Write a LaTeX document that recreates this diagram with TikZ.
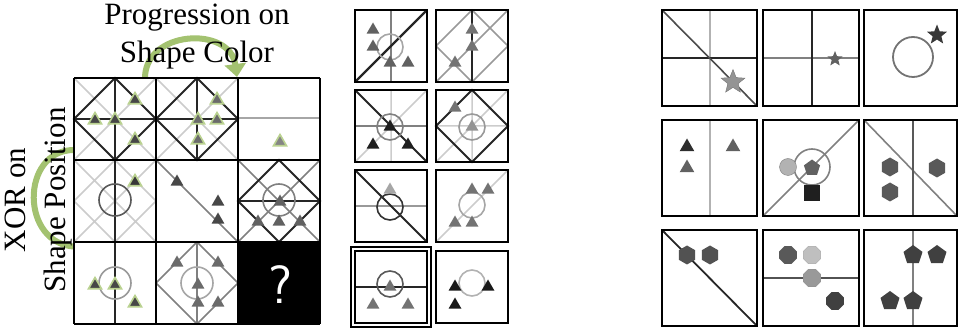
\documentclass[tikz,border=0pt]{standalone}
\usepackage{fontspec}
\setmainfont{Liberation Serif}
\usetikzlibrary{shapes.geometric,arrows.meta}

\definecolor{leaf}{RGB}{163,194,112}
\definecolor{glowc}{RGB}{186,210,144}

\tikzset{
  frame/.style={draw=black,line width=2.5pt},
  bk/.style={draw=black!85,line width=1.8pt},
  gr/.style={draw=black!50,line width=1.6pt},
  lg/.style={draw=black!20,line width=1.5pt},
  tri/.style={regular polygon,regular polygon sides=3,inner sep=0pt,minimum size=15pt},
  glow/.style={draw=glowc,line width=1.6pt},
  hexa/.style={regular polygon,regular polygon sides=6,shape border rotate=30,inner sep=0pt,minimum size=19pt},
  penta/.style={regular polygon,regular polygon sides=5,inner sep=0pt,minimum size=20pt},
  octa/.style={regular polygon,regular polygon sides=8,inner sep=0pt,minimum size=19pt},
  starr/.style={star,star points=5,star point ratio=2.3,inner sep=0pt},
  title/.style={font=\fontsize{31}{36}\selectfont}
}

\begin{document}
\begin{tikzpicture}[x=1pt,y=-1pt]
    \useasboundingbox (0,0) rectangle (961,328);

    % Green arrows
    \draw[leaf,line width=6pt,-{Triangle[width=21pt,length=13pt]}] (145,80) .. controls (143,30) and (230,25) .. (237,77);
    \draw[leaf,line width=6pt,-{Triangle[width=21pt,length=13pt]}] (74,150) .. controls (20,150) and (20,245) .. (88,247);

    % Titles
    \node[title,anchor=base] (topA) at (197,25) {Progression on};
    \node[title,anchor=base] (topB) at (197,63) {Shape Color};
    \node[title,anchor=base,rotate=90] (sideA) at (25,200) {XOR on};
    \node[title,anchor=base,rotate=90] (sideB) at (65,200) {Shape Position};

    % Matrix
    \fill[white] (74,78) rectangle (320,324);

    % Row 1
    \begin{scope}[shift={(74,78)}]
        \draw[lg] (0,0) -- (82,82) (0,82) -- (82,0);
        \draw[bk] (41,0) -- (82,41) -- (41,82) -- (0,41) -- cycle (41,0) -- (41,82) (0,41) -- (82,41);
        \foreach \p [count=\k] in {(61,22),(21,42),(41,42),(61,62)}
            \node[tri,glow,fill=black!72] (m11t\k) at \p {};
    \end{scope}
    \begin{scope}[shift={(156,78)}]
        \draw[lg] (0,0) -- (82,82) (0,82) -- (82,0);
        \draw[bk] (41,0) -- (82,41) -- (41,82) -- (0,41) -- cycle (41,0) -- (41,82) (0,41) -- (82,41);
        \foreach \p [count=\k] in {(61,22),(42,42),(61,42),(42,62)}
            \node[tri,glow,fill=black!58] (m12t\k) at \p {};
    \end{scope}
    \begin{scope}[shift={(238,78)}]
        \draw[gr,draw=black!35] (0,40) -- (82,40);
        \node[tri,glow,fill=black!48] (m13t1) at (42,64) {};
    \end{scope}

    % Row 2
    \begin{scope}[shift={(74,160)}]
        \draw[lg] (0,0) -- (82,82) (0,82) -- (82,0) (41,0) -- (82,41) -- (41,82) -- (0,41) -- cycle;
        \draw[bk] (41,0) -- (41,82);
        \draw[gr,draw=black!65] (41,40) circle (16pt);
        \node[tri,glow,fill=black!78] (m21t1) at (61,22) {};
    \end{scope}
    \begin{scope}[shift={(156,160)}]
        \draw[gr] (0,0) -- (82,82);
        \foreach \p [count=\k] in {(21,22),(62,42),(62,60)}
            \node[tri,fill=black!72] (m22t\k) at \p {};
    \end{scope}
    \begin{scope}[shift={(238,160)}]
        \draw[gr] (0,0) -- (82,82) (0,82) -- (82,0);
        \draw[bk] (41,0) -- (82,41) -- (41,82) -- (0,41) -- cycle (0,41) -- (82,41);
        \draw[gr] (41,40) circle (16pt);
        \foreach \p [count=\k] in {(42,42),(20,62),(41,62),(62,62)}
            \node[tri,fill=black!62] (m23t\k) at \p {};
    \end{scope}

    % Row 3
    \begin{scope}[shift={(74,242)}]
        \draw[bk] (41,0) -- (41,82);
        \draw[gr,draw=black!40] (41,41) circle (16pt);
        \foreach \p [count=\k] in {(21,43),(41,43),(61,61)}
            \node[tri,glow,fill=black!72] (m31t\k) at \p {};
    \end{scope}
    \begin{scope}[shift={(156,242)}]
        \draw[gr] (41,0) -- (82,41) -- (41,82) -- (0,41) -- cycle (41,0) -- (41,82);
        \draw[gr,draw=black!35] (41,41) circle (16pt);
        \foreach \p [count=\k] in {(21,21),(62,21),(42,43),(42,61),(62,61)}
            \node[tri,fill=black!58] (m32t\k) at \p {};
    \end{scope}
    \fill[black] (238,242) rectangle (320,324);
    \node[white,font=\sffamily\fontsize{54}{60}\selectfont] (ask) at (280,285) {?};

    % Grid lines
    \foreach \i in {0,82,164,246}
        \draw[frame] (74+\i,78) -- (74+\i,324) (74,78+\i) -- (320,78+\i);

    % Answer candidates
    \begin{scope}[shift={(355,10)}]
        \draw[gr] (36,0) -- (36,72);
        \draw[bk,line width=2.2pt] (0,72) -- (72,0);
        \draw[gr,draw=black!35] (35,37) circle (13pt);
        \foreach \p [count=\k] in {(18,20),(18,37),(35,53),(53,53)}
            \node[tri,fill=black!62] (c1t\k) at \p {};
        \draw[frame] (0,0) rectangle (72,72);
    \end{scope}
    \begin{scope}[shift={(436,10)}]
        \draw[gr,draw=black!40] (36,0) -- (72,36) -- (36,72) -- (0,36) -- cycle (0,72) -- (72,0);
        \draw[bk] (36,0) -- (36,72);
        \foreach \p [count=\k] in {(36,20),(36,37),(19,53)}
            \node[tri,fill=black!55] (c2t\k) at \p {};
        \draw[frame] (0,0) rectangle (72,72);
    \end{scope}
    \begin{scope}[shift={(355,90)}]
        \draw[lg] (36,0) -- (36,72) (0,72) -- (72,0);
        \draw[gr] (0,36) -- (72,36);
        \draw[bk] (0,0) -- (72,72);
        \draw[gr] (35,37) circle (13pt);
        \foreach \p [count=\k] in {(35,37),(18,55),(53,55)}
            \node[tri,fill=black!88] (c3t\k) at \p {};
        \draw[frame] (0,0) rectangle (72,72);
    \end{scope}
    \begin{scope}[shift={(436,90)}]
        \draw[lg] (36,0) -- (36,72) (0,36) -- (72,36) (0,72) -- (72,0);
        \draw[bk] (36,0) -- (72,36) -- (36,72) -- (0,36) -- cycle;
        \draw[gr,draw=black!40] (36,37) circle (13pt);
        \node[tri,fill=black!55] (c4t1) at (19,18) {};
        \node[tri,fill=black!42] (c4t2) at (36,37) {};
        \draw[frame] (0,0) rectangle (72,72);
    \end{scope}
    \begin{scope}[shift={(355,170)}]
        \draw[gr,draw=black!40] (0,36) -- (72,36);
        \draw[bk] (0,0) -- (72,72);
        \draw[gr,draw=black!80] (35,37) circle (13pt);
        \node[tri,fill=black!35] (c5t1) at (35,20) {};
        \draw[frame] (0,0) rectangle (72,72);
    \end{scope}
    \begin{scope}[shift={(436,170)}]
        \draw[lg] (0,72) -- (72,0);
        \draw[gr,draw=black!35] (36,35) circle (13pt);
        \foreach \p [count=\k] in {(36,20),(52,20),(19,53),(36,53)}
            \node[tri,fill=black!55] (c6t\k) at \p {};
        \draw[frame] (0,0) rectangle (72,72);
    \end{scope}
    \begin{scope}[shift={(355,251)}]
        \draw[bk] (0,36) -- (72,36);
        \draw[gr,draw=black!65] (35,33) circle (13pt);
        \foreach \p [count=\k] in {(35,36),(18,54),(53,54)}
            \node[tri,fill=black!55] (c7t\k) at \p {};
        \draw[frame] (0,0) rectangle (72,72);
        \draw[line width=1.6pt] (-4,-4) rectangle (76,76);
    \end{scope}
    \begin{scope}[shift={(436,251)}]
        \draw[gr,draw=black!30] (36,32) circle (13pt);
        \foreach \p [count=\k] in {(19,36),(52,36),(19,54)}
            \node[tri,fill=black!90] (c8t\k) at \p {};
        \draw[frame] (0,0) rectangle (72,72);
    \end{scope}

    % Right matrix, row 1
    \begin{scope}[shift={(662,10)}]
        \draw[gr,draw=black!30] (48,0) -- (48,96);
        \draw[bk] (0,48) -- (95,48);
        \draw[gr,draw=black!70] (0,0) -- (95,96);
        \node[starr,minimum size=25pt,fill=black!42,draw=black!55] (r1s) at (71,72) {};
        \draw[frame] (0,0) rectangle (95,96);
    \end{scope}
    \begin{scope}[shift={(763,10)}]
        \draw[gr] (0,48) -- (96,48);
        \draw[bk] (49,0) -- (49,96);
        \node[starr,minimum size=16pt,fill=black!62] (r2s) at (72,49) {};
        \draw[frame] (0,0) rectangle (96,96);
    \end{scope}
    \begin{scope}[shift={(864,10)}]
        \draw[gr,draw=black!55,line width=1.8pt] (49,47) circle (20pt);
        \node[starr,minimum size=21pt,fill=black!78] (r3s) at (73,25) {};
        \draw[frame] (0,0) rectangle (93,96);
    \end{scope}

    % Right matrix, row 2
    \begin{scope}[shift={(662,120)}]
        \draw[gr,draw=black!30] (48,0) -- (48,96);
        \node[tri,minimum size=17pt,fill=black!82] (r4t1) at (25,27) {};
        \node[tri,minimum size=17pt,fill=black!62] (r4t2) at (25,48) {};
        \node[tri,minimum size=17pt,fill=black!62] (r4t3) at (71,27) {};
        \draw[frame] (0,0) rectangle (95,96);
    \end{scope}
    \begin{scope}[shift={(763,120)}]
        \draw[gr] (0,96) -- (96,0);
        \draw[gr] (49,47) circle (18pt);
        \node[circle,minimum size=17pt,inner sep=0pt,fill=black!30,draw=black!50] (r5c) at (25,47) {};
        \node[penta,minimum size=17pt,fill=black!62] (r5p) at (49,48) {};
        \node[minimum size=16pt,inner sep=0pt,fill=black!88] (r5q) at (49,73) {};
        \draw[frame] (0,0) rectangle (96,96);
    \end{scope}
    \begin{scope}[shift={(864,120)}]
        \draw[gr] (0,0) -- (93,96);
        \draw[gr,draw=black!65] (49,0) -- (49,96);
        \foreach \p [count=\k] in {(26,47),(26,72),(73,48)}
            \node[hexa,fill=black!65] (r6h\k) at \p {};
        \draw[frame] (0,0) rectangle (93,96);
    \end{scope}

    % Right matrix, row 3
    \begin{scope}[shift={(662,230)}]
        \draw[bk] (0,0) -- (95,96);
        \foreach \p [count=\k] in {(25,25),(48,25)}
            \node[hexa,fill=black!68] (r7h\k) at \p {};
        \draw[frame] (0,0) rectangle (95,96);
    \end{scope}
    \begin{scope}[shift={(763,230)}]
        \draw[gr,draw=black!68] (0,48) -- (96,48);
        \node[octa,fill=black!65] (r8o1) at (25,25) {};
        \node[octa,fill=black!25,draw=black!35] (r8o2) at (49,25) {};
        \node[octa,fill=black!40,draw=black!45] (r8o3) at (49,48) {};
        \node[octa,fill=black!75] (r8o4) at (72,71) {};
        \draw[frame] (0,0) rectangle (96,96);
    \end{scope}
    \begin{scope}[shift={(864,230)}]
        \draw[gr] (49,0) -- (49,96);
        \foreach \p [count=\k] in {(49,25),(73,25),(26,71),(49,71)}
            \node[penta,fill=black!75] (r9p\k) at \p {};
        \draw[frame] (0,0) rectangle (93,96);
    \end{scope}
\end{tikzpicture}
\end{document}
